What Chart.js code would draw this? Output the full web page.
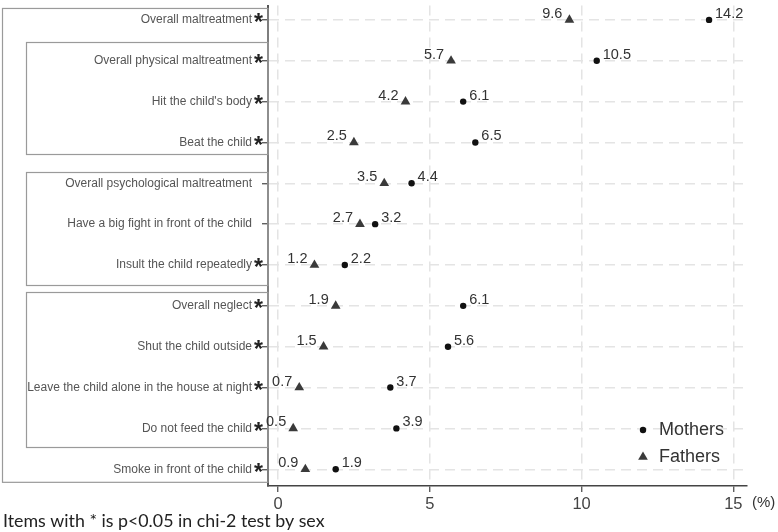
<!DOCTYPE html>
<html>
<head>
<meta charset="utf-8">
<script src="https://cdn.jsdelivr.net/npm/chart.js@4/dist/chart.umd.min.js"></script>
<style>
    html, body { margin: 0; padding: 0; background: #fff; }
    #wrap { width: 778px; height: 532px; position: relative; }
</style>
</head>
<body>
<div id="wrap"><canvas id="chart"></canvas></div>
<script>
const items = [
    'Overall maltreatment',
    'Overall physical maltreatment',
    "Hit the child's body",
    'Beat the child',
    'Overall psychological maltreatment',
    'Have a big fight in front of the child',
    'Insult the child repeatedly',
    'Overall neglect',
    'Shut the child outside',
    'Leave the child alone in the house at night',
    'Do not feed the child',
    'Smoke in front of the child',
];
const starred = [true, true, true, true, false, false, true, true, true, true, true, true];
const mothers = [14.2, 10.5, 6.1, 6.5, 4.4, 3.2, 2.2, 6.1, 5.6, 3.7, 3.9, 1.9];
const fathers = [9.6, 5.7, 4.2, 2.5, 3.5, 2.7, 1.2, 1.9, 1.5, 0.7, 0.5, 0.9];
const xTicks = [0, 5, 10, 15];
const footnote = 'Items with * is p<0.05 in chi-2 test by sex';

// frames round the item groups, in row units (top, bottom)
const frames = [
    [0.545, 3.28],
    [3.72, 6.48],
    [6.65, 10.45],
];

const SANS = '"Liberation Sans", Arial, sans-serif';

const decorPlugin = {
    id: 'decor',
    afterDraw(chart) {
        const { ctx, chartArea: area, scales } = chart;
        const y = scales.y;

        ctx.save();

        // outer frame and group frames
        ctx.strokeStyle = '#9a9a9a';
        ctx.lineWidth = 1.2;
        const outerTop = y.getPixelForValue(-0.28);
        const outerBottom = y.getPixelForValue(11.32);
        ctx.strokeRect(2.5, outerTop, area.left - 2.5, outerBottom - outerTop);
        frames.forEach(([top, bottom]) => {
            const t = Math.round(y.getPixelForValue(top)) + 0.5;
            const b = Math.round(y.getPixelForValue(bottom)) + 0.5;
            ctx.strokeRect(26.5, t, area.left - 26.5, b - t);
        });

        // item labels
        items.forEach((label, i) => {
            const py = y.getPixelForValue(i);
            ctx.font = `12px ${SANS}`;
            ctx.fillStyle = '#555';
            ctx.textAlign = 'right';
            ctx.textBaseline = 'middle';
            ctx.fillText(label, 252, py);
            if (starred[i]) {
                ctx.font = `bold 23px ${SANS}`;
                ctx.fillStyle = '#222';
                ctx.textAlign = 'left';
                ctx.textBaseline = 'alphabetic';
                ctx.fillText('*', 254, py + 10.5);
            }
        });

        // value labels
        ctx.font = `14.5px ${SANS}`;
        ctx.fillStyle = '#333';
        ctx.textBaseline = 'alphabetic';
        chart.data.datasets.forEach((ds, di) => {
            const meta = chart.getDatasetMeta(di);
            meta.data.forEach((pt, i) => {
                const text = ds.data[i].x.toFixed(1);
                if (di === 0) {
                    ctx.textAlign = 'left';
                    ctx.fillText(text, pt.x + 6, pt.y - 2);
                } else {
                    ctx.textAlign = 'right';
                    ctx.fillText(text, pt.x - 7, pt.y - 2);
                }
            });
        });

        // legend
        ctx.font = `18px ${SANS}`;
        ctx.textAlign = 'left';
        ctx.textBaseline = 'middle';
        chart.data.datasets.forEach((ds, di) => {
            const ly = 430 + di * 27;
            ctx.fillStyle = ds.backgroundColor;
            Chart.helpers.drawPoint(ctx, {
                pointStyle: ds.pointStyle,
                radius: ds.pointRadius,
                rotation: 0,
                borderWidth: 0,
            }, 643, ly);
            ctx.fillStyle = '#333';
            ctx.fillText(ds.label, 659, ly);
        });

        // unit and footnote
        ctx.font = `15px ${SANS}`;
        ctx.fillStyle = '#333';
        ctx.fillText('(%)', 752, 503);
        ctx.font = '17.8px Lato, "Open Sans", sans-serif';
        ctx.fillStyle = '#222';
        ctx.textBaseline = 'alphabetic';
        ctx.fillText(footnote, 3, 527);

        ctx.restore();
    },
};

const gridColor = '#e4e4e4';

new Chart(document.getElementById('chart'), {
    type: 'scatter',
    data: {
        datasets: [
            {
                label: 'Mothers',
                data: mothers.map((v, i) => ({ x: v, y: i })),
                pointStyle: 'circle',
                pointRadius: 3.2,
                backgroundColor: '#111',
                borderWidth: 0,
            },
            {
                label: 'Fathers',
                data: fathers.map((v, i) => ({ x: v, y: i })),
                pointStyle: 'triangle',
                pointRadius: 5.6,
                backgroundColor: '#3a3a3a',
                borderWidth: 0,
            },
        ],
    },
    options: {
        responsive: true,
        maintainAspectRatio: false,
        animation: false,
        layout: {
            padding: { left: 0, right: 31, top: 0, bottom: 0 },
        },
        plugins: {
            legend: false,
            tooltip: false,
        },
        scales: {
            x: {
                type: 'linear',
                min: -0.33,
                max: 15.45,
                afterBuildTicks(scale) {
                    scale.ticks = xTicks.map((value) => ({ value }));
                },
                afterFit(scale) {
                    scale.height = 46;
                },
                grid: {
                    color: gridColor,
                    lineWidth: 1.5,
                    tickLength: 6,
                    tickColor: '#444',
                    tickWidth: 1.2,
                },
                border: {
                    display: true,
                    color: '#444',
                    width: 1.5,
                    dash: [10, 6],
                },
                ticks: {
                    color: '#444',
                    padding: 3,
                    maxRotation: 0,
                    font: { family: SANS, size: 16.5 },
                },
            },
            y: {
                type: 'linear',
                reverse: true,
                min: -0.35,
                max: 11.41,
                afterBuildTicks(scale) {
                    scale.ticks = items.map((_, i) => ({ value: i }));
                },
                afterFit(scale) {
                    scale.width = 268;
                },
                grid: {
                    color: gridColor,
                    lineWidth: 1.5,
                    tickLength: 6,
                    tickColor: '#444',
                    tickWidth: 1.2,
                },
                border: {
                    display: true,
                    color: '#555',
                    width: 2,
                    dash: [10, 6],
                },
                ticks: {
                    display: false,
                },
            },
        },
    },
    plugins: [decorPlugin],
});
</script>
</body>
</html>
